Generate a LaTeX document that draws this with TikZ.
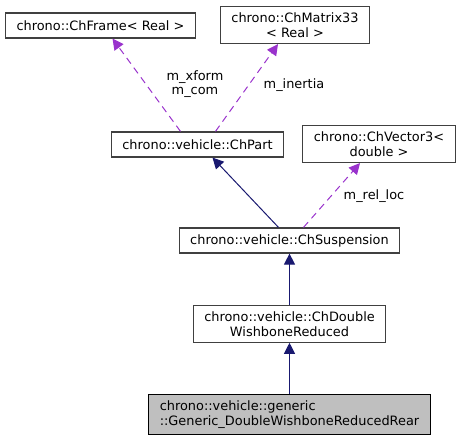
\documentclass[tikz,border=0pt]{standalone}
\usepackage{fontspec}
\setmainfont{DejaVu Sans}
\usetikzlibrary{arrows.meta, graphs, positioning}

\definecolor{edgenavy}{RGB}{25,25,112}
\definecolor{edgepurple}{RGB}{153,50,204}
\definecolor{boxgray}{RGB}{64,64,64}
\definecolor{fillgray}{RGB}{191,191,191}

\tikzset{
    cls/.style={draw=boxgray, line width=1.2pt, fill=white, align=center,
                inner xsep=11pt, inner ysep=6pt, minimum height=25pt,
                font=\fontsize{12.9}{15}\selectfont},
    inherit/.style={draw=edgenavy, line width=1pt,
                    -{Triangle[length=11pt,width=11pt]}},
    member/.style={draw=edgepurple, line width=1pt, dash pattern=on 7pt off 5pt,
                   -{Triangle[length=11pt,width=11pt]}},
    lbl/.style={align=center, inner sep=0pt, font=\fontsize{12.9}{14}\selectfont}
}

\begin{document}
\begin{tikzpicture}[x=1pt, y=-1pt]
    \useasboundingbox (0,0) rectangle (464,441);

    \node[cls]                          (Frame)   at (100.5,25.5) {chrono::ChFrame< Real >};
    \node[cls]                          (Matrix)  at (295,25)     {chrono::ChMatrix33\\< Real >};
    \node[cls]                          (Part)    at (197.5,144.5) {chrono::vehicle::ChPart};
    \node[cls]                          (Vector)  at (379,144)    {chrono::ChVector3<\\double >};
    \node[cls]                          (Susp)    at (289.5,240.5) {chrono::vehicle::ChSuspension};
    \node[cls, below=51pt of Susp]      (Double)  {chrono::vehicle::ChDouble\\WishboneReduced};
    \node[cls, draw=black, fill=fillgray, align=left,
          below=51pt of Double]         (Generic) {chrono::vehicle::generic\\::Generic\_DoubleWishboneReducedRear};

    \graph{
        (Generic) ->[inherit] (Double) ->[inherit] (Susp);
    };
    \draw[inherit] ([xshift=-11pt]Susp.north) -- ([xshift=15pt]Part.south);

    % usage relations
    \draw[member] ([xshift=-17pt]Part.north) -- ([xshift=12pt]Frame.south);
    \draw[member] ([xshift=18pt]Part.north)  -- ([xshift=-17pt]Matrix.south);
    \draw[member] ([xshift=14pt]Susp.north)  -- ([xshift=-19pt]Vector.south);

    \node[lbl] (lxform) at (195,84)  {m\_xform\\m\_com};
    \node[lbl] (linert) at (294,85)  {m\_inertia};
    \node[lbl] (lrel)   at (374,196) {m\_rel\_loc};
\end{tikzpicture}
\end{document}
